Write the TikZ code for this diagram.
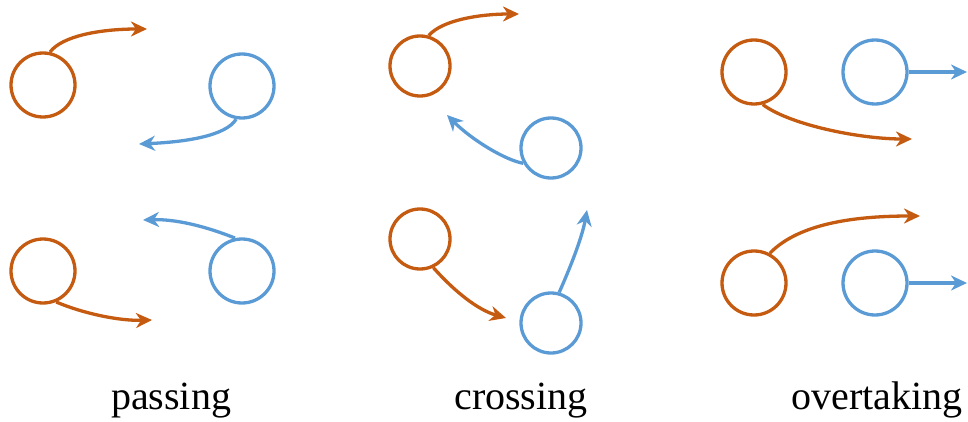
\documentclass[tikz,border=0pt]{standalone}
\usepackage{fontspec}
\setmainfont{Liberation Serif}
\usetikzlibrary{arrows.meta}
\definecolor{carorange}{HTML}{C55A11}
\definecolor{carblue}{HTML}{5B9BD5}
\tikzset{
  car/.style={circle, draw, line width=3.3pt, inner sep=0pt, minimum size=#1},
  ocar/.style={car=#1, draw=carorange},
  bcar/.style={car=#1, draw=carblue},
  path/.style={line width=3.3pt, -{Stealth[length=16pt,width=15pt,inset=5pt]}},
  opath/.style={path, draw=carorange},
  bpath/.style={path, draw=carblue},
  caption/.style={anchor=base, inner sep=0pt, font=\fontsize{40}{44}\selectfont}
}
\begin{document}
\begin{tikzpicture}[x=1pt, y=-1pt]
\useasboundingbox (0,0) rectangle (968,422);

% passing
\node[ocar=64pt] (pa1) at (43,85) {};
\node[bcar=64pt] (pb1) at (242,86) {};
\coordinate (pa1e) at (147,29);
\coordinate (pb1e) at (139,144);
\draw[opath] (pa1.78) .. controls (62,36) and (100,29) .. (pa1e);
\draw[bpath] (pb1.260) .. controls (226,136) and (185,142) .. (pb1e);

\node[ocar=64pt] (pa2) at (43,271) {};
\node[bcar=64pt] (pb2) at (242,271) {};
\coordinate (pa2e) at (152,320);
\coordinate (pb2e) at (143,220);
\draw[opath] (pa2.293) .. controls (82,313) and (118,321) .. (pa2e);
\draw[bpath] (pb2.102) .. controls (205,226) and (175,219) .. (pb2e);

\node[caption] (lpass) at (171,409) {passing};

% crossing
\node[ocar=60pt] (ca1) at (420,66) {};
\node[bcar=60pt] (cb1) at (551,148) {};
\coordinate (ca1e) at (519,14);
\coordinate (cb1e) at (447,115);
\draw[opath] (ca1.74) .. controls (442,20) and (480,14) .. (ca1e);
\draw[bpath] (cb1.209) .. controls (505,160) and (472,140) .. (cb1e);

\node[ocar=60pt] (ca2) at (420,239) {};
\node[bcar=60pt] (cb2) at (551,323) {};
\coordinate (ca2e) at (506,318);
\coordinate (cb2e) at (587,210);
\draw[opath] (ca2.295) .. controls (455,292) and (478,310) .. (ca2e);
\draw[bpath] (cb2.75) .. controls (570,268) and (582,238) .. (cb2e);

\node[caption] (lcross) at (521,409) {crossing};

% overtaking
\node[ocar=64pt] (oa1) at (754,72) {};
\node[bcar=64pt] (ob1) at (875,72) {};
\coordinate (oa1e) at (912,139);
\coordinate (ob1e) at (967,72);
\draw[opath] (oa1.285) .. controls (790,125) and (860,139) .. (oa1e);
\draw[bpath] (ob1.east) -- (ob1e);

\node[ocar=64pt] (oa2) at (754,283) {};
\node[bcar=64pt] (ob2) at (875,283) {};
\coordinate (oa2e) at (920,216);
\coordinate (ob2e) at (967,283);
\draw[opath] (oa2.62) .. controls (800,222) and (860,216) .. (oa2e);
\draw[bpath] (ob2.east) -- (ob2e);

\node[caption] (lover) at (877,409) {overtaking};
\end{tikzpicture}
\end{document}
